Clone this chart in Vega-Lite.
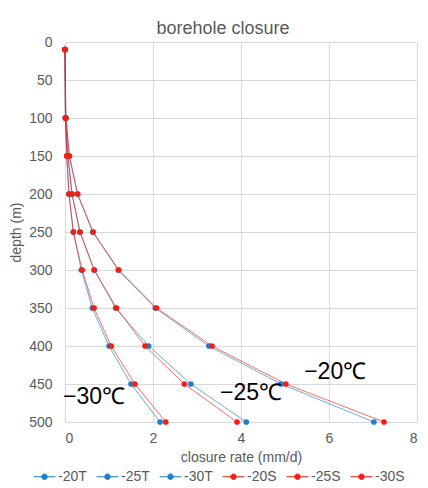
{
  "$schema": "https://vega.github.io/schema/vega-lite/v6.json",
  "width": 352,
  "height": 380,
  "autosize": "none",
  "padding": {"left": 65, "top": 42, "right": 11, "bottom": 66},
  "background": "white",
  "title": {"text": "borehole closure", "fontSize": 18, "font": "Liberation Sans", "fontWeight": "normal", "color": "#595959", "offset": -3, "frame": "group", "anchor": "middle", "dx": -18},
  "datasets": {
    "series": [
      {"series": "-20T", "depth": 10, "rate": 0},
      {"series": "-20T", "depth": 100, "rate": 0.02},
      {"series": "-20T", "depth": 150, "rate": 0.1},
      {"series": "-20T", "depth": 200, "rate": 0.28},
      {"series": "-20T", "depth": 250, "rate": 0.63},
      {"series": "-20T", "depth": 300, "rate": 1.21},
      {"series": "-20T", "depth": 350, "rate": 2.05},
      {"series": "-20T", "depth": 400, "rate": 3.27},
      {"series": "-20T", "depth": 450, "rate": 4.91},
      {"series": "-20T", "depth": 500, "rate": 7.02},
      {"series": "-25T", "depth": 10, "rate": 0},
      {"series": "-25T", "depth": 100, "rate": 0.01},
      {"series": "-25T", "depth": 150, "rate": 0.06},
      {"series": "-25T", "depth": 200, "rate": 0.16},
      {"series": "-25T", "depth": 250, "rate": 0.34},
      {"series": "-25T", "depth": 300, "rate": 0.67},
      {"series": "-25T", "depth": 350, "rate": 1.15},
      {"series": "-25T", "depth": 400, "rate": 1.9},
      {"series": "-25T", "depth": 450, "rate": 2.86},
      {"series": "-25T", "depth": 500, "rate": 4.12},
      {"series": "-30T", "depth": 10, "rate": 0},
      {"series": "-30T", "depth": 100, "rate": 0.01},
      {"series": "-30T", "depth": 150, "rate": 0.04},
      {"series": "-30T", "depth": 200, "rate": 0.09},
      {"series": "-30T", "depth": 250, "rate": 0.19},
      {"series": "-30T", "depth": 300, "rate": 0.37},
      {"series": "-30T", "depth": 350, "rate": 0.62},
      {"series": "-30T", "depth": 400, "rate": 1.0},
      {"series": "-30T", "depth": 450, "rate": 1.5},
      {"series": "-30T", "depth": 500, "rate": 2.16},
      {"series": "-20S", "depth": 10, "rate": 0},
      {"series": "-20S", "depth": 100, "rate": 0.02},
      {"series": "-20S", "depth": 150, "rate": 0.1},
      {"series": "-20S", "depth": 200, "rate": 0.29},
      {"series": "-20S", "depth": 250, "rate": 0.64},
      {"series": "-20S", "depth": 300, "rate": 1.22},
      {"series": "-20S", "depth": 350, "rate": 2.08},
      {"series": "-20S", "depth": 400, "rate": 3.34},
      {"series": "-20S", "depth": 450, "rate": 5.02},
      {"series": "-20S", "depth": 500, "rate": 7.25},
      {"series": "-25S", "depth": 10, "rate": 0},
      {"series": "-25S", "depth": 100, "rate": 0.01},
      {"series": "-25S", "depth": 150, "rate": 0.07},
      {"series": "-25S", "depth": 200, "rate": 0.16},
      {"series": "-25S", "depth": 250, "rate": 0.34},
      {"series": "-25S", "depth": 300, "rate": 0.66},
      {"series": "-25S", "depth": 350, "rate": 1.17},
      {"series": "-25S", "depth": 400, "rate": 1.82},
      {"series": "-25S", "depth": 450, "rate": 2.71},
      {"series": "-25S", "depth": 500, "rate": 3.91},
      {"series": "-30S", "depth": 10, "rate": 0},
      {"series": "-30S", "depth": 100, "rate": 0.01},
      {"series": "-30S", "depth": 150, "rate": 0.04},
      {"series": "-30S", "depth": 200, "rate": 0.09},
      {"series": "-30S", "depth": 250, "rate": 0.19},
      {"series": "-30S", "depth": 300, "rate": 0.39},
      {"series": "-30S", "depth": 350, "rate": 0.66},
      {"series": "-30S", "depth": 400, "rate": 1.05},
      {"series": "-30S", "depth": 450, "rate": 1.59},
      {"series": "-30S", "depth": 500, "rate": 2.29}
    ],
    "labels": [
      {"label": "−20℃", "rate": 6.14, "depth": 434},
      {"label": "−25℃", "rate": 4.23, "depth": 462},
      {"label": "−30℃", "rate": 0.66, "depth": 467}
    ]
  },
  "encoding": {
    "x": {"field": "rate", "type": "quantitative", "scale": {"domain": [0, 8], "nice": false}, "title": "closure rate (mm/d)", "axis": {"values": [0, 2, 4, 6, 8], "labelOverlap": false}},
    "y": {"field": "depth", "type": "quantitative", "scale": {"domain": [0, 500], "reverse": true, "nice": false}, "title": "depth (m)", "axis": {"values": [0, 50, 100, 150, 200, 250, 300, 350, 400, 450, 500], "labelOverlap": false, "tickCount": 11}}
  },
  "layer": [
    {
      "data": {"name": "series"},
      "mark": {"type": "line", "strokeWidth": 1, "opacity": 0.65},
      "encoding": {
        "color": {"field": "series", "type": "nominal", "scale": {"domain": ["-20T", "-25T", "-30T", "-20S", "-25S", "-30S"], "range": ["#1a7fcf", "#1a7fcf", "#1a7fcf", "#f51d12", "#f51d12", "#f51d12"]}, "title": null},
        "order": {"field": "depth", "type": "quantitative"}
      }
    },
    {
      "data": {"name": "series"},
      "mark": {"type": "point", "filled": true, "size": 32, "opacity": 1},
      "encoding": {
        "color": {"field": "series", "type": "nominal", "title": null}
      }
    },
    {
      "data": {"name": "labels"},
      "mark": {"type": "text", "fontSize": 23, "font": "Liberation Sans", "color": "black", "align": "center", "baseline": "middle"},
      "encoding": {
        "text": {"field": "label", "type": "nominal"}
      }
    }
  ],
  "config": {
    "view": {"stroke": null},
    "font": "Liberation Sans",
    "axis": {
      "domain": false,
      "ticks": false,
      "grid": true,
      "gridColor": "#d9d9d9",
      "gridWidth": 1,
      "labelFont": "Liberation Sans",
      "labelFontSize": 14,
      "labelColor": "#595959",
      "titleFont": "Liberation Sans",
      "titleFontSize": 14,
      "titleFontWeight": "normal",
      "titleColor": "#595959"
    },
    "axisX": {"labelPadding": 9, "titlePadding": 5},
    "axisY": {"labelPadding": 13, "titlePadding": 5},
    "legend": {
      "orient": "none",
      "legendX": -32,
      "legendY": 423,
      "direction": "horizontal",
      "columns": 6,
      "symbolType": "M-1,0H1M-0.25,0A0.25,0.25 0 1,1 0.25,0A0.25,0.25 0 1,1 -0.25,0Z",
      "symbolSize": 484,
      "symbolStrokeWidth": 1,
      "symbolOpacity": 1,
      "labelFont": "Liberation Sans",
      "labelFontSize": 14,
      "labelColor": "#595959",
      "labelOffset": 2,
      "columnPadding": 7
    }
  }
}
